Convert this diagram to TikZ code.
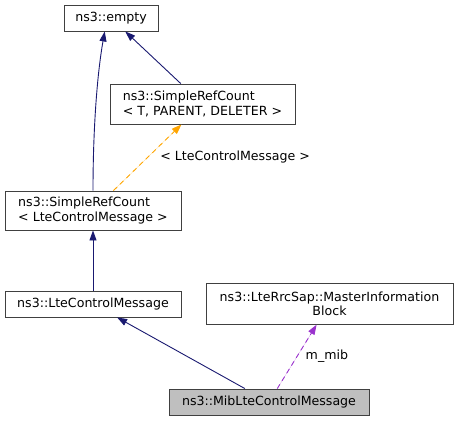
\documentclass[tikz,border=0pt]{standalone}
\usepackage{fontspec}
\setmainfont{DejaVu Sans}
\usetikzlibrary{arrows.meta}
\definecolor{edgeblue}{HTML}{191970}
\definecolor{tplorange}{HTML}{FFA500}
\definecolor{usepurple}{HTML}{9A32CD}
\begin{document}
\begin{tikzpicture}[x=1pt,y=-1pt,
  cls/.style={draw=black!75,fill=white,line width=0.9pt,inner sep=0pt,
    font=\fontsize{12.6}{14.5}\selectfont,minimum height=26pt},
  cur/.style={cls,fill=black!25},
  inh/.style={draw=edgeblue,line width=0.9pt,-{Triangle[length=10pt,width=7pt]}},
  tpl/.style={inh,draw=tplorange,fill=tplorange,dash pattern=on 5pt off 4pt},
  use/.style={inh,draw=usepurple,fill=usepurple,dash pattern=on 5pt off 4pt},
  lbl/.style={font=\fontsize{12.6}{14.5}\selectfont,text=black}]
\useasboundingbox (0,0) rectangle (457,421);
\node[cls,minimum width=94pt] (empty) at (111,18) {ns3::empty};
\node[cls,minimum width=185pt,minimum height=40pt,align=left] (srct) at (202.5,104) {ns3::SimpleRefCount\\< T, PARENT, DELETER >};
\node[cls,minimum width=176pt,minimum height=39pt,align=left] (srcl) at (93,210.5) {ns3::SimpleRefCount\\< LteControlMessage >};
\node[cls,minimum width=176pt] (lcm) at (93,304) {ns3::LteControlMessage};
\node[cls,minimum width=247pt,minimum height=41pt,align=center] (mib) at (329.5,303.7) {ns3::LteRrcSap::MasterInformation\\Block};
\node[cur,minimum width=200pt] (mibl) at (269,402) {ns3::MibLteControlMessage};
\draw[inh] (srcl.north) .. controls (93,130) and (97,75) .. (empty.-115);
\draw[inh] (srct) -- (empty);
\draw[inh] (lcm) -- (srcl);
\draw[inh] (mibl) -- (lcm);
\draw[tpl] (srcl) -- (srct) node[lbl,pos=0.5,right,xshift=9pt] (tlbl) {< LteControlMessage >};
\draw[use] (mibl) -- (mib) node[lbl,pos=0.5,right,xshift=5pt] (ulbl) {m\_mib};
\end{tikzpicture}
\end{document}
